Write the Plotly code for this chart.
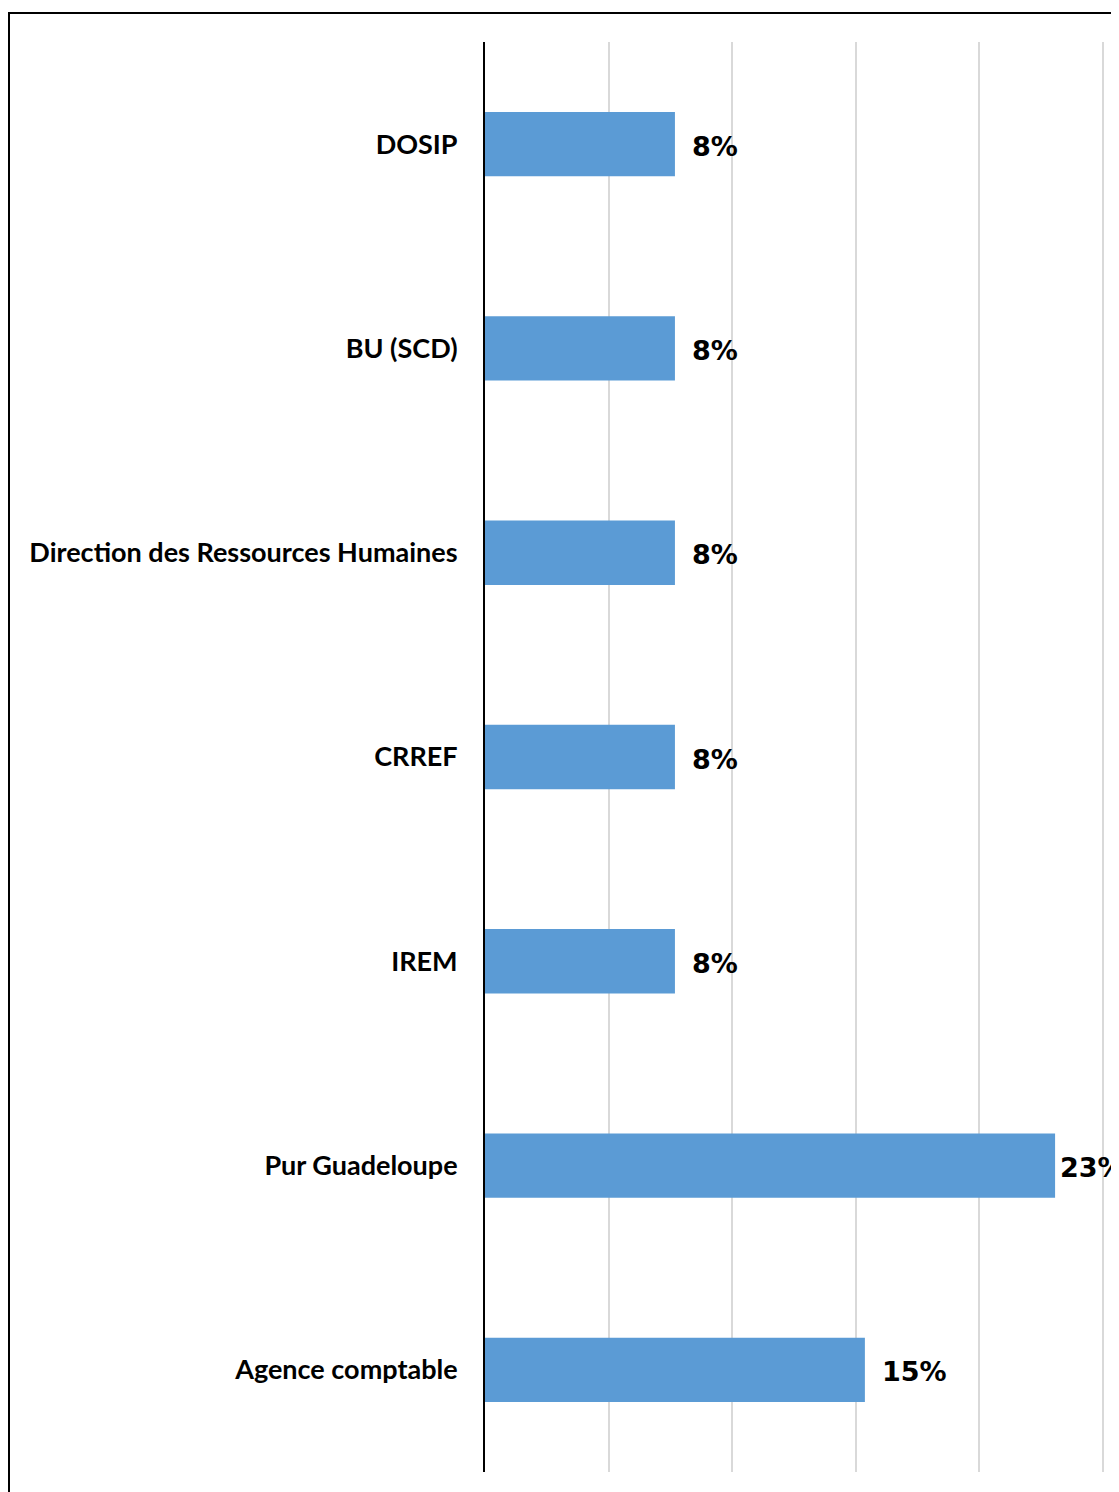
import plotly.graph_objects as go

categories = ["DOSIP", "BU (SCD)", "Direction des Ressources Humaines", "CRREF",
              "IREM", "Pur Guadeloupe", "Agence comptable"]
values = [7.69, 7.69, 7.69, 7.69, 7.69, 23.08, 15.38]
labels = ["8%", "8%", "8%", "8%", "8%", "23%", "15%"]

W, H = 1119, 1492
OFF = 8  # page body margin
L, R, T, B = 485 - OFF, 0, 42 - OFF, 28
pw = W - L - R
ph = H - T - B

fig = go.Figure()
fig.add_trace(go.Bar(
    y=categories, x=values, orientation="h",
    marker=dict(color="#5b9bd5", line=dict(width=0)),
    width=0.315, hoverinfo="skip",
))

vmax = max(values)
for c, v, t in zip(categories, values, labels):
    fig.add_annotation(x=v, y=c, text=t, showarrow=False, xanchor="left",
                       xshift=(3 if v == vmax else 15), yshift=-2,
                       font=dict(family="DejaVu Sans", size=27, color="black", weight="bold"))

fig.add_shape(type="rect", xref="paper", yref="paper",
              x0=(1 - L) / pw, x1=1.05, y0=-(B + 20) / ph, y1=1 + (T - 5) / ph,
              line=dict(color="black", width=2), fillcolor="rgba(0,0,0,0)", layer="above")

fig.update_layout(
    width=W, height=H,
    margin=dict(l=L, r=R, t=T, b=B),
    paper_bgcolor="white", plot_bgcolor="white",
    showlegend=False,
    xaxis=dict(range=[0, pw / 24.7], dtick=5, showgrid=True, gridcolor="#d9d9d9",
               gridwidth=1.5, showticklabels=False, zeroline=False, showline=False,
               ticks=""),
    yaxis=dict(autorange="reversed", showline=True, linecolor="black", linewidth=2,
               ticks="", ticklabelstandoff=20, showgrid=False,
               tickfont=dict(family="Lato", size=27, color="black", weight="bold")),
)

fig.write_html("out.html")
